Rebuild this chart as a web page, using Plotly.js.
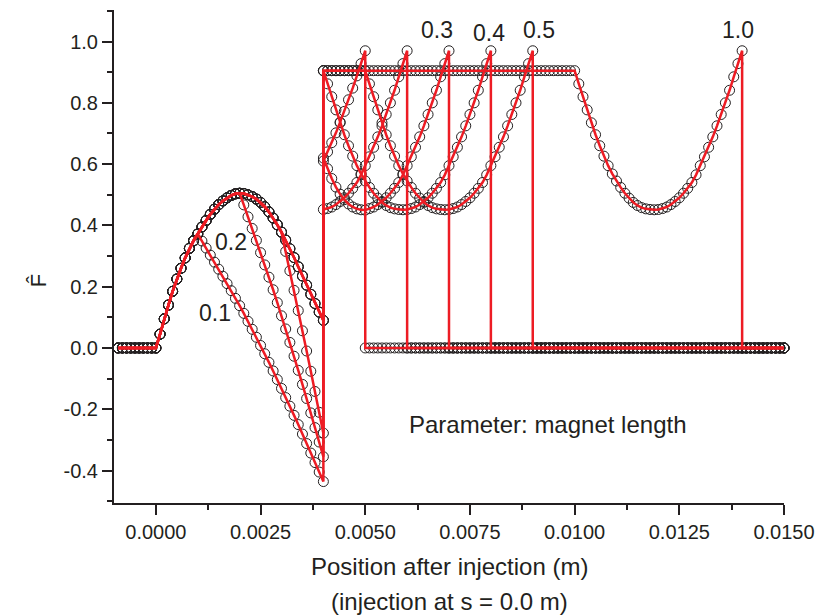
<!DOCTYPE html>
<html>
<head>
<meta charset="utf-8">
<script src="https://cdn.plot.ly/plotly-3.0.1.min.js"></script>
<style>
  html, body { margin: 0; padding: 0; background: #ffffff; }
  #chart { width: 816px; height: 615px; }
</style>
</head>
<body>
<div id="chart"></div>
<script>
// ---------------- DATA ----------------
// Positions before injection (m)
const xPre = [-0.0009, -0.0008, -0.0007, -0.0006, -0.0005, -0.0004, -0.0003, -0.0002, -0.0001];

// Position grid after injection (m), one entry per sampled point
const xGrid = [
  0.0000, 0.0001, 0.0002, 0.0003, 0.0004, 0.0005, 0.0006, 0.0007, 0.0008, 0.0009,
  0.0010, 0.0011, 0.0012, 0.0013, 0.0014, 0.0015, 0.0016, 0.0017, 0.0018, 0.0019,
  0.0020, 0.0021, 0.0022, 0.0023, 0.0024, 0.0025, 0.0026, 0.0027, 0.0028, 0.0029,
  0.0030, 0.0031, 0.0032, 0.0033, 0.0034, 0.0035, 0.0036, 0.0037, 0.0038, 0.0039,
  0.0040, 0.0041, 0.0042, 0.0043, 0.0044, 0.0045, 0.0046, 0.0047, 0.0048, 0.0049,
  0.0050, 0.0051, 0.0052, 0.0053, 0.0054, 0.0055, 0.0056, 0.0057, 0.0058, 0.0059,
  0.0060, 0.0061, 0.0062, 0.0063, 0.0064, 0.0065, 0.0066, 0.0067, 0.0068, 0.0069,
  0.0070, 0.0071, 0.0072, 0.0073, 0.0074, 0.0075, 0.0076, 0.0077, 0.0078, 0.0079,
  0.0080, 0.0081, 0.0082, 0.0083, 0.0084, 0.0085, 0.0086, 0.0087, 0.0088, 0.0089,
  0.0090, 0.0091, 0.0092, 0.0093, 0.0094, 0.0095, 0.0096, 0.0097, 0.0098, 0.0099,
  0.0100, 0.0101, 0.0102, 0.0103, 0.0104, 0.0105, 0.0106, 0.0107, 0.0108, 0.0109,
  0.0110, 0.0111, 0.0112, 0.0113, 0.0114, 0.0115, 0.0116, 0.0117, 0.0118, 0.0119,
  0.0120, 0.0121, 0.0122, 0.0123, 0.0124, 0.0125, 0.0126, 0.0127, 0.0128, 0.0129,
  0.0130, 0.0131, 0.0132, 0.0133, 0.0134, 0.0135, 0.0136, 0.0137, 0.0138, 0.0139,
  0.0140, 0.0141, 0.0142, 0.0143, 0.0144, 0.0145, 0.0146, 0.0147, 0.0148, 0.0149,
  0.0150
];

// Flat levels of F-hat
const baseLevel = 0.0;
const topLevel = 0.905;

// Entrance bump, x = 0.0000 ... 0.0040
const bumpY = [0.000, 0.045, 0.095, 0.140, 0.185, 0.225, 0.260, 0.294, 0.325, 0.350,
  0.372, 0.395, 0.416, 0.436, 0.453, 0.468, 0.480, 0.490, 0.498, 0.503,
  0.505, 0.504, 0.500, 0.494, 0.486, 0.475, 0.461, 0.444, 0.424, 0.402,
  0.378, 0.352, 0.324, 0.295, 0.265, 0.235, 0.205, 0.175, 0.145, 0.117, 0.090];

// Falling branches inside the bump region
const branch01Y = [0.349, 0.326, 0.303, 0.280, 0.257, 0.234, 0.210, 0.187, 0.162, 0.138,
  0.113, 0.087, 0.061, 0.035, 0.008, -0.019, -0.047, -0.075, -0.103, -0.132,
  -0.162, -0.190, -0.220, -0.250, -0.281, -0.312, -0.343, -0.374, -0.405, -0.436]; // x 0.0011..0.0040
const branch02Y = [0.467, 0.428, 0.390, 0.351, 0.311, 0.271, 0.231, 0.190, 0.148, 0.105,
  0.062, 0.018, -0.027, -0.073, -0.119, -0.165, -0.212, -0.260, -0.307, -0.355]; // x 0.0021..0.0040
const branch03Y = [0.315, 0.252, 0.188, 0.122, 0.056, -0.010, -0.076, -0.142, -0.210, -0.278]; // x 0.0031..0.0040

// Exit arc (4 mm long), sampled every 0.0001 m
const exitArcY = [0.905, 0.862, 0.820, 0.777, 0.735, 0.696, 0.660, 0.626, 0.595, 0.568,
  0.545, 0.524, 0.505, 0.489, 0.475, 0.465, 0.458, 0.454, 0.452, 0.451,
  0.452, 0.455, 0.460, 0.468, 0.478, 0.490, 0.505, 0.521, 0.540, 0.565,
  0.595, 0.624, 0.655, 0.689, 0.725, 0.762, 0.800, 0.841, 0.885, 0.928, 0.970];
const arc01Y = [0.610, 0.640, 0.670, 0.702, 0.737, 0.772, 0.810, 0.848, 0.888, 0.928, 0.970]; // x 0.0040..0.0050
const arc03Y = [0.620, 0.585, 0.553, 0.525, 0.502, 0.484, 0.470, 0.460, 0.454, 0.451, 0.450,
  0.455, 0.460, 0.468, 0.478, 0.490, 0.505, 0.521, 0.540, 0.565,
  0.595, 0.624, 0.655, 0.689, 0.725, 0.762, 0.800, 0.841, 0.885, 0.928, 0.970]; // x 0.0040..0.0070

// Curve labels (magnet length)
const curveLabels = ['0.1', '0.2', '0.3', '0.4', '0.5', '1.0'];

// Axis ticks
const xTickVals = [0, 0.0025, 0.005, 0.0075, 0.01, 0.0125, 0.015];
const xTickText = ['0.0000', '0.0025', '0.0050', '0.0075', '0.0100', '0.0125', '0.0150'];
const yTickVals = [-0.4, -0.2, 0, 0.2, 0.4, 0.6, 0.8, 1.0];
const yTickText = ['-0.4', '-0.2', '0.0', '0.2', '0.4', '0.6', '0.8', '1.0'];

// ---------------- assemble curves from the arrays ----------------
function flat(n, level) { return new Array(n).fill(level); }
function seg(i0, i1, ys) { return { x: xGrid.slice(i0, i1 + 1), y: ys }; }
const preSeg = { x: xPre, y: flat(xPre.length, baseLevel) };

const segments = {
  '0.1': [preSeg, seg(0, 10, bumpY.slice(0, 11)), seg(11, 40, branch01Y), seg(40, 50, arc01Y), seg(50, 150, flat(101, baseLevel))],
  '0.2': [preSeg, seg(0, 20, bumpY.slice(0, 21)), seg(21, 40, branch02Y), seg(40, 60, exitArcY.slice(20)), seg(60, 150, flat(91, baseLevel))],
  '0.3': [preSeg, seg(0, 30, bumpY.slice(0, 31)), seg(31, 40, branch03Y), seg(40, 70, arc03Y), seg(70, 150, flat(81, baseLevel))],
  '0.4': [preSeg, seg(0, 40, bumpY), seg(40, 80, exitArcY), seg(80, 150, flat(71, baseLevel))],
  '0.5': [preSeg, seg(0, 40, bumpY), seg(40, 49, flat(10, topLevel)), seg(50, 90, exitArcY), seg(90, 150, flat(61, baseLevel))],
  '1.0': [preSeg, seg(0, 40, bumpY), seg(40, 99, flat(60, topLevel)), seg(100, 140, exitArcY), seg(140, 150, flat(11, baseLevel))]
};

const series = curveLabels.map(function (lab) {
  const xs = [], ys = [];
  segments[lab].forEach(function (s) { xs.push(...s.x); ys.push(...s.y); });
  return { name: lab, x: xs, y: ys };
});

// ---------------- styles ----------------
const INK = '#231f20';
const RED = '#ed1c24';
const FONT = 'Liberation Sans, Arial, Helvetica, sans-serif';

const markerTraces = series.map(s => ({
  type: 'scatter', mode: 'markers', x: s.x, y: s.y, name: s.name + ' (points)',
  marker: { symbol: 'circle-open', size: 10, color: INK, line: { width: 1, color: INK } },
  hoverinfo: 'x+y', showlegend: false, cliponaxis: false
}));
const lineTraces = series.map(s => ({
  type: 'scatter', mode: 'lines', x: s.x, y: s.y, name: s.name,
  line: { color: RED, width: 2.5 },
  hoverinfo: 'x+y', showlegend: false
}));

const labelPos = {
  '0.1': [0.001412, 0.114], '0.2': [0.001794, 0.346], '0.3': [0.006725, 1.038],
  '0.4': [0.007955, 1.028], '0.5': [0.009149, 1.038], '1.0': [0.01389, 1.038]
};
const annotations = curveLabels.map(lab => ({
  x: labelPos[lab][0], y: labelPos[lab][1], xref: 'x', yref: 'y', text: lab,
  xanchor: 'center', yanchor: 'middle',
  showarrow: false, font: { family: FONT, size: 23, color: INK }
}));
annotations.push({
  x: 0.009364, y: -0.251, xref: 'x', yref: 'y', text: 'Parameter: magnet length',
  xanchor: 'center', yanchor: 'middle',
  showarrow: false, font: { family: FONT, size: 24, color: INK }
});
annotations.push({
  x: -0.1134, y: 0.45, xref: 'paper', yref: 'paper', text: 'F\u0302', textangle: -90,
  xanchor: 'center', yanchor: 'middle',
  showarrow: false, font: { family: FONT, size: 22, color: INK }
});
annotations.push({
  x: 0.5, y: -0.1278, xref: 'paper', yref: 'paper', text: 'Position after injection (m)',
  xanchor: 'center', yanchor: 'middle',
  showarrow: false, font: { family: FONT, size: 24, color: INK }
});
annotations.push({
  x: 0.5, y: -0.1988, xref: 'paper', yref: 'paper', text: '(injection at s = 0.0 m)',
  xanchor: 'center', yanchor: 'middle',
  showarrow: false, font: { family: FONT, size: 24, color: INK }
});

const layout = {
  width: 816, height: 615,
  margin: { l: 114, r: 32, t: 10, b: 112, pad: 0 },
  paper_bgcolor: '#ffffff', plot_bgcolor: '#ffffff',
  showlegend: false,
  font: { family: FONT, color: INK },
  xaxis: {
    range: [-0.001, 0.015], tickmode: 'array', tickvals: xTickVals, ticktext: xTickText,
    ticks: 'outside', ticklen: 10, tickwidth: 2, tickcolor: INK,
    showline: true, linewidth: 2, linecolor: INK, mirror: false,
    showgrid: false, zeroline: false,
    tickfont: { family: FONT, size: 20, color: INK },
    minor: { tickmode: 'linear', tick0: 0, dtick: 0.00125, ticks: 'outside', ticklen: 5, tickwidth: 2, tickcolor: INK, showgrid: false }
  },
  yaxis: {
    range: [-0.506, 1.103], tickmode: 'array', tickvals: yTickVals, ticktext: yTickText,
    ticks: 'outside', ticklen: 10, tickwidth: 2, tickcolor: INK,
    showline: true, linewidth: 2, linecolor: INK, mirror: false,
    showgrid: false, zeroline: false,
    tickfont: { family: FONT, size: 20, color: INK },
    minor: { tickmode: 'linear', tick0: 0, dtick: 0.1, ticks: 'outside', ticklen: 5, tickwidth: 2, tickcolor: INK, showgrid: false }
  },
  annotations: annotations
};

Plotly.newPlot('chart', markerTraces.concat(lineTraces), layout, { displayModeBar: false, staticPlot: true });
</script>
</body>
</html>
